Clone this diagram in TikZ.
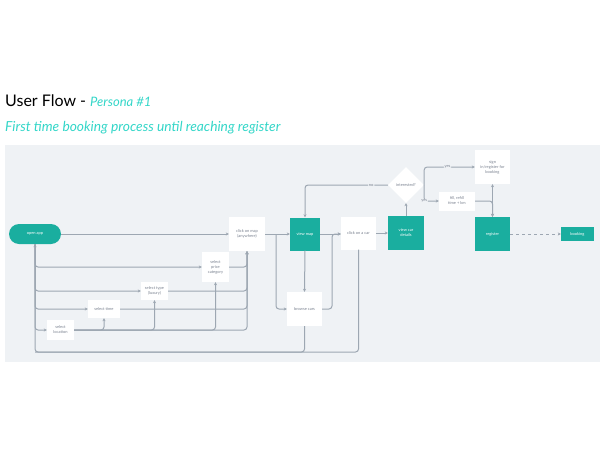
\documentclass[tikz,border=0pt]{standalone}
\usepackage{fontspec}
\setmainfont{Lato}
\usetikzlibrary{shapes.geometric,arrows.meta}
\definecolor{bgpanel}{HTML}{EFF2F5}
\definecolor{tealbox}{HTML}{1AAE9F}
\definecolor{tealtxt}{HTML}{33D6C8}
\definecolor{lncol}{HTML}{9DA7B2}
\definecolor{txtgray}{HTML}{7A8290}
\tikzset{
  wbox/.style={fill=white, align=center, text=txtgray, font=\fontsize{4}{5}\selectfont, inner sep=1pt},
  tbox/.style={fill=tealbox, align=center, text=white, font=\fontsize{4}{5}\selectfont, inner sep=1pt},
  ln/.style={draw=lncol, line width=1pt, rounded corners=3pt, -{Stealth[length=3pt,width=3pt]}},
  plain/.style={draw=lncol, line width=1pt, rounded corners=3pt},
  lbl/.style={fill=bgpanel, text=txtgray, font=\fontsize{4}{5}\selectfont, inner sep=0.8pt},
}
\begin{document}
\begin{tikzpicture}[x=1pt,y=-1pt]
\useasboundingbox (0,0) rectangle (600,450);
\fill[bgpanel] (5,145) rectangle (600,362);
% titles
\node[anchor=base west, inner sep=0, font=\fontsize{16}{18}\selectfont] (title) at (5,106) {User Flow - {\color{tealtxt}\fontsize{13}{14}\selectfont\itshape Persona \#1}};
\node[anchor=base west, inner sep=0, text=tealtxt, font=\fontsize{13.8}{15}\selectfont\itshape] (sub) at (5,131) {First time booking process until reaching register};
% nodes
\node[tbox, minimum width=52, minimum height=20, rounded corners=10pt] (open) at (35,234) {open app};
\node[wbox, minimum width=36, minimum height=34] (map) at (247,234) {click on map\\(anywhere)};
\node[tbox, minimum width=30, minimum height=33] (vmap) at (305,234) {view map};
\node[wbox, minimum width=35, minimum height=33] (car) at (358.5,233) {click on a car};
\node[tbox, minimum width=36, minimum height=34] (det) at (406,233) {view car\\details};
\node[diamond, fill=white, minimum width=36, minimum height=36, inner sep=0, text=txtgray, font=\fontsize{4}{5}\selectfont] (int) at (406,185) {interested?};
\node[wbox, minimum width=35, minimum height=34] (sign) at (492.5,167) {sign\\in/register for\\booking};
\node[wbox, minimum width=36, minimum height=19] (fill) at (457,201) {fill, refill\\time + km};
\node[tbox, minimum width=35, minimum height=34] (reg) at (492.5,234) {register};
\node[tbox, minimum width=33, minimum height=14] (book) at (577.5,234) {booking};
\node[wbox, minimum width=27, minimum height=30] (price) at (215.5,267) {select\\price\\category};
\node[wbox, minimum width=27, minimum height=18] (type) at (154.5,291) {select type\\(luxury)};
\node[wbox, minimum width=32, minimum height=18] (time) at (104,309) {select time};
\node[wbox, minimum width=27, minimum height=20] (loc) at (60.5,330) {select\\location};
\node[wbox, minimum width=35, minimum height=34] (browse) at (304.5,309) {browse cars};
\coordinate (j1) at (276,234);
\coordinate (j2) at (332,234);
\coordinate (bl) at (35,352);
% connectors
\draw[ln] (open) -- (map);
\draw[ln] (open.south) |- (price.west);
\draw[ln] (open.south) |- (type.west);
\draw[ln] (open.south) |- (time.west);
\draw[ln] (open.south) |- (loc.west);
\draw[ln] (car.south) |- (bl) -- (open.south);
\draw[plain] (browse.south) |- (bl);
\draw[ln] (loc.east) -| (time.south);
\draw[ln] (loc.east) -| (type.south);
\draw[ln] (loc.east) -| (price.south);
\draw[ln] (loc.east) -| (map.south);
\draw[ln] (time.east) -| (map.south);
\draw[ln] (type.east) -| (map.south);
\draw[ln] (price.east) -| (map.south);
\draw[ln] (map) -- (vmap);
\draw[ln] (j1) |- (browse.west);
\draw[ln] (vmap) -- (car.west |- vmap);
\draw[ln] (browse.east) -| (j2) -- (car.west |- j2);
\draw[ln] (vmap.south) -- (browse.north);
\draw[ln] (car.east) -- (det.west |- car.east);
\draw[ln] (det.north) -- (int.south);
\draw[ln] (int.west) -| (vmap.north) node[lbl, pos=0.1] {no};
\draw[ln] (int.east) |- (sign.west) node[lbl, pos=0.73] {yes};
\draw[ln] (int.east) |- (fill.west) node[lbl, pos=0.5] {yes};
\draw[ln] (fill.east) -| (reg.north);
\draw[ln, {Stealth[length=3pt,width=3pt]}-{Stealth[length=3pt,width=3pt]}] (sign.south) -- (reg.north);
\draw[ln, dashed] (reg.east) -- (book.west);
\end{tikzpicture}
\end{document}
